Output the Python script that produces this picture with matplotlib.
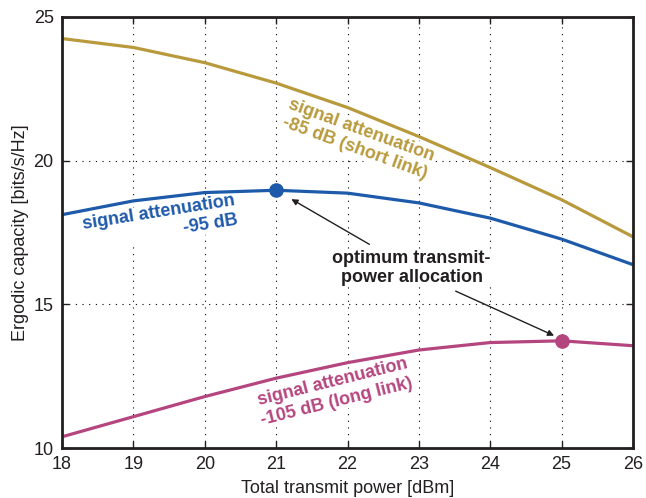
import numpy as np
import matplotlib.pyplot as plt

plt.rcParams['font.family'] = ['Liberation Sans', 'DejaVu Sans']

power_dbm = [18, 19, 20, 21, 22, 23, 24, 25, 26]
cap_85 = [24.25, 23.94, 23.41, 22.70, 21.85, 20.84, 19.76, 18.64, 17.35]
cap_95 = [18.12, 18.60, 18.89, 18.97, 18.87, 18.53, 18.00, 17.27, 16.38]
cap_105 = [10.39, 11.09, 11.79, 12.43, 12.97, 13.41, 13.67, 13.73, 13.56]

opt_95 = (21, 18.97)
opt_105 = (25, 13.73)

gold = '#B89A3C'
blue = '#1E5AAA'
magenta = '#B5457F'
dark = '#231F20'

fig = plt.figure(figsize=(6.46, 4.98), dpi=100)
ax = fig.add_axes([62 / 646, 50 / 498, 571 / 646, 431 / 498])
ax.set_axisbelow(True)

ax.plot(power_dbm, cap_85, color=gold, lw=2.3, solid_capstyle='butt', zorder=2)
ax.plot(power_dbm, cap_95, color=blue, lw=2.3, solid_capstyle='butt', zorder=2)
ax.plot(power_dbm, cap_105, color=magenta, lw=2.3, solid_capstyle='butt', zorder=2)
ax.plot(*opt_95, 'o', color=blue, ms=9.5, zorder=5)
ax.plot(*opt_105, 'o', color=magenta, ms=9.5, zorder=5)

ax.set_xlim(18, 26)
ax.set_ylim(10, 25)
ax.set_xticks(power_dbm)
ax.set_yticks([10, 15, 20, 25])
ax.grid(True, color='black', linestyle=(0, (1, 5)), linewidth=0.8)
ax.tick_params(direction='in', top=True, right=True, length=5, width=1,
               labelsize=13, colors=dark, labelcolor=dark, pad=6)
for s in ax.spines.values():
    s.set_linewidth(2)
    s.set_color(dark)

ax.set_xlabel('Total transmit power [dBm]', fontsize=13, color=dark, labelpad=5)
ax.set_ylabel('Ergodic capacity [bits/s/Hz]', fontsize=13, color=dark, labelpad=3)

box = dict(facecolor='white', edgecolor='none', pad=0.5)
ax.text(22.15, 20.75, 'signal attenuation\n-85 dB (short link)', color=gold,
        fontsize=13, fontweight='bold', rotation=-20, ha='center', va='center',
        rotation_mode='anchor', linespacing=1.2, bbox=box, zorder=1)
ax.text(19.37, 17.84, 'signal attenuation\n-95 dB', color=blue,
        fontsize=13, fontweight='bold', rotation=9, ha='center', va='center',
        multialignment='right', rotation_mode='anchor', linespacing=1.2,
        bbox=box, zorder=1)
ax.text(21.82, 11.95, 'signal attenuation\n-105 dB (long link)', color=magenta,
        fontsize=13, fontweight='bold', rotation=14, ha='center', va='center',
        rotation_mode='anchor', linespacing=1.2, bbox=box, zorder=1)
ax.text(22.9, 16.27, 'optimum transmit-\npower allocation', color=dark,
        fontsize=13, fontweight='bold', ha='center', va='center',
        linespacing=1.15, bbox=box, zorder=6)

arrow = dict(arrowstyle='-|>', color=dark, lw=1, mutation_scale=9)
ax.annotate('', xy=(21.18, 18.71), xytext=(22.34, 17.04), arrowprops=arrow)
ax.annotate('', xy=(24.93, 13.87), xytext=(23.48, 15.5), arrowprops=arrow)

fig.savefig('out.png', dpi=100)
